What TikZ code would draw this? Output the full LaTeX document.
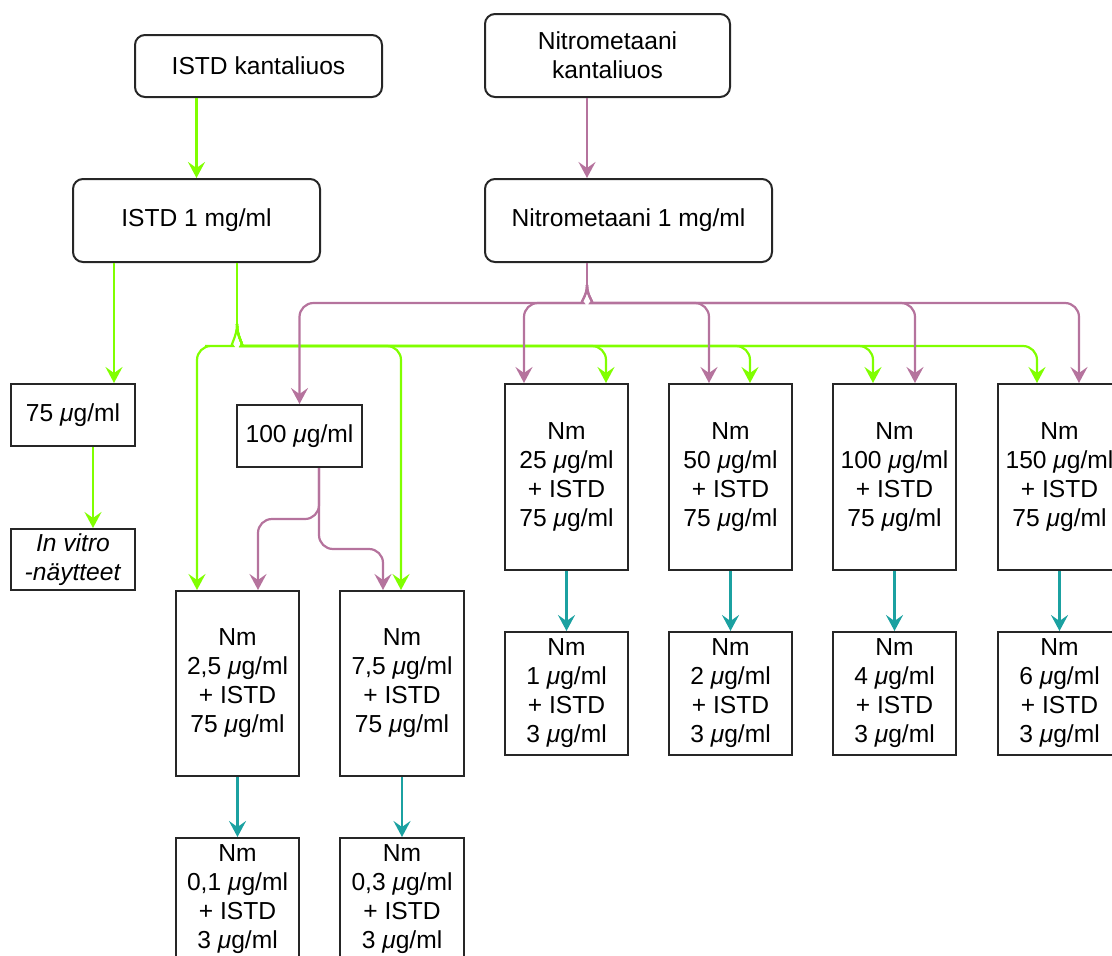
\documentclass[tikz,border=0pt]{standalone}
\usepackage{fontspec}
\setmainfont{Liberation Sans}
\usetikzlibrary{arrows.meta}
\definecolor{gcol}{HTML}{80FF00}
\definecolor{mcol}{HTML}{B5739D}
\definecolor{tcol}{HTML}{1BA1A1}
\newcommand\ugml{\textit{μ}g/ml}
\begin{document}
\begin{tikzpicture}[x=1pt,y=-1pt,
  font=\fontsize{24.6}{29}\selectfont,
  box/.style={draw=black!85, line width=2pt, inner sep=0pt, align=center},
  rbox/.style={box, rounded corners=10pt},
  nmbox/.style={box, minimum width=123pt, minimum height=186pt},
  lowbox/.style={box, minimum width=123pt, minimum height=123pt},
  tip/.style={-{Stealth[length=16pt,width=17pt,inset=6pt]}},
  gl/.style={line width=2.2pt, draw=gcol, rounded corners=14pt},
  ga/.style={gl, tip},
  ml/.style={line width=2.2pt, draw=mcol, rounded corners=14pt},
  ma/.style={ml, tip},
  ta/.style={line width=2.2pt, draw=tcol, tip}
]
\useasboundingbox (0,0) rectangle (1112,956);

% nodes
\node[rbox, minimum width=247pt, minimum height=62pt] (kIS) at (258.5,66) {ISTD kantaliuos};
\node[rbox, minimum width=245pt, minimum height=83pt] (kNM) at (607.5,55.5) {Nitrometaani\\kantaliuos};
\node[rbox, minimum width=247pt, minimum height=83pt] (IS1) at (196.5,220.5) {ISTD 1 mg/ml};
\node[rbox, minimum width=287pt, minimum height=83pt] (NM1) at (628.5,220.5) {Nitrometaani 1 mg/ml};
\node[box, minimum width=124pt, minimum height=62pt] (b75) at (73,415) {75 \ugml};
\node[box, minimum width=124pt, minimum height=61pt] (vitro) at (73,559.5) {\textit{In vitro}\\\textit{-näytteet}};
\node[box, minimum width=125pt, minimum height=62pt] (b100) at (299.5,436) {100 \ugml};

\node[nmbox, minimum height=185pt] (a1) at (237.5,683.5) {Nm\\2,5 \ugml\\+ ISTD\\75 \ugml};
\node[nmbox, minimum height=185pt, minimum width=124pt] (a2) at (402,683.5) {Nm\\7,5 \ugml\\+ ISTD\\75 \ugml};
\node[nmbox] (c1) at (566.5,477) {Nm\\25 \ugml\\+ ISTD\\75 \ugml};
\node[nmbox] (c2) at (730.5,477) {Nm\\50 \ugml\\+ ISTD\\75 \ugml};
\node[nmbox] (c3) at (894.5,477) {Nm\\100 \ugml\\+ ISTD\\75 \ugml};
\node[nmbox] (c4) at (1059.5,477) {Nm\\150 \ugml\\+ ISTD\\75 \ugml};

\node[lowbox] (d1) at (566.5,693.5) {Nm\\1 \ugml\\+ ISTD\\3 \ugml};
\node[lowbox] (d2) at (730.5,693.5) {Nm\\2 \ugml\\+ ISTD\\3 \ugml};
\node[lowbox] (d3) at (894.5,693.5) {Nm\\4 \ugml\\+ ISTD\\3 \ugml};
\node[lowbox] (d4) at (1059.5,693.5) {Nm\\6 \ugml\\+ ISTD\\3 \ugml};
\node[lowbox] (e1) at (237.5,899.5) {Nm\\0,1 \ugml\\+ ISTD\\3 \ugml};
\node[lowbox, minimum width=124pt] (e2) at (402,899.5) {Nm\\0,3 \ugml\\+ ISTD\\3 \ugml};

% green (ISTD) connectors
\draw[ga] (kIS.south -| IS1.north) -- (IS1.north);
\draw[ga] ([xshift=-82.5pt]IS1.south) -- ([xshift=41pt]b75.north);
\draw[ga] ([xshift=20pt]b75.south) -- ([xshift=20pt]vitro.north);
\draw[gl] ([xshift=40.5pt]IS1.south) -- ++(0,61) coordinate (gj);
\draw[ga] (gj) .. controls +(0,14) and +(10,0) .. ++(-18,22) -| ([xshift=-40.5pt]a1.north);
\draw[ga] (gj) .. controls +(0,14) and +(-10,0) .. ++(18,22) -| ([xshift=-1pt]a2.north);
\draw[ga] (gj) .. controls +(0,14) and +(-10,0) .. ++(18,22) -| ([xshift=39.5pt]c1.north);
\draw[ga] (gj) .. controls +(0,14) and +(-10,0) .. ++(18,22) -| ([xshift=19.5pt]c2.north);
\draw[ga] (gj) .. controls +(0,14) and +(-10,0) .. ++(18,22) -| ([xshift=-21.5pt]c3.north);
\draw[ga] (gj) .. controls +(0,14) and +(-10,0) .. ++(18,22) -| ([xshift=-22.5pt]c4.north);

% magenta (Nitrometaani) connectors
\draw[ma] ([xshift=-20.5pt]kNM.south) -- ([xshift=-41.5pt]NM1.north);
\draw[ml] ([xshift=-41.5pt]NM1.south) -- ++(0,22) coordinate (mj);
\draw[ma] (mj) .. controls +(0,12) and +(10,0) .. ++(-18,18) -| (b100.north);
\draw[ma] (mj) .. controls +(0,12) and +(10,0) .. ++(-18,18) -| ([xshift=-42.5pt]c1.north);
\draw[ma] (mj) .. controls +(0,12) and +(-10,0) .. ++(18,18) -| ([xshift=-21.5pt]c2.north);
\draw[ma] (mj) .. controls +(0,12) and +(-10,0) .. ++(18,18) -| ([xshift=20.5pt]c3.north);
\draw[ma] (mj) .. controls +(0,12) and +(-10,0) .. ++(18,18) -| ([xshift=19.5pt]c4.north);
\draw[ma] ([xshift=19.5pt]b100.south) -- ++(0,51) -| ([xshift=20.5pt]a1.north);
\draw[ma] ([xshift=19.5pt]b100.south) -- ++(0,81) -| ([xshift=-19pt]a2.north);

% teal connectors
\draw[ta] (a1.south) -- (e1.north);
\draw[ta] (a2.south) -- (e2.north);
\draw[ta] (c1.south) -- (d1.north);
\draw[ta] (c2.south) -- (d2.north);
\draw[ta] (c3.south) -- (d3.north);
\draw[ta] (c4.south) -- (d4.north);
\end{tikzpicture}
\end{document}
